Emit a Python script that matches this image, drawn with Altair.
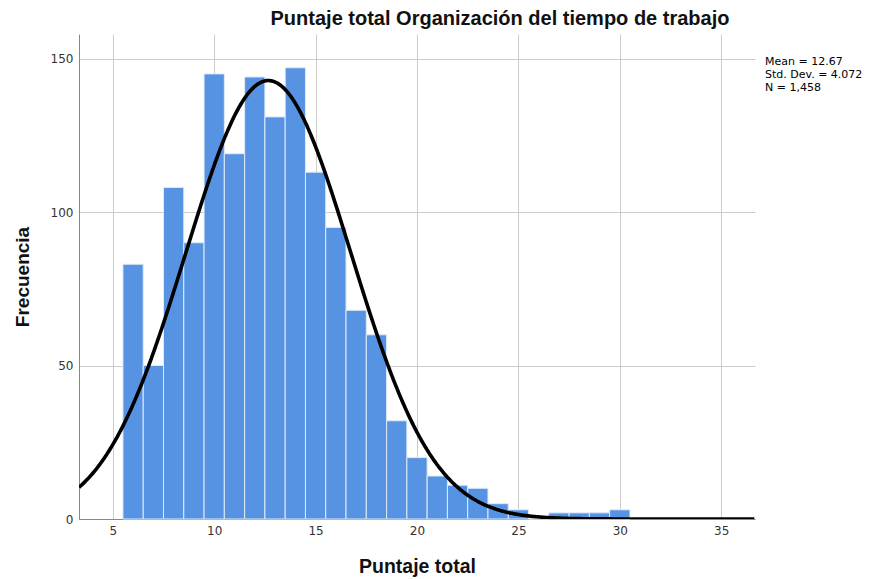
import altair as alt
import pandas as pd

# Data (bins of width 1 centred on integers)
bin_centers = [6, 7, 8, 9, 10, 11, 12, 13, 14, 15, 16, 17, 18, 19, 20, 21, 22, 23, 24, 25, 26, 27, 28, 29, 30]
counts = [83, 50, 108, 90, 145, 119, 144, 131, 147, 113, 95, 68, 60, 32, 20, 14, 11, 10, 5, 3, 0, 2, 2, 2, 3]
MEAN = 12.67
SD = 4.072
N = 1458
BIN_W = 1.0
x_ticks = [5, 10, 15, 20, 25, 30, 35]
y_ticks = [0, 50, 100, 150]
stats_lines = ["Mean = 12.67", "Std. Dev. = 4.072", "N = 1,458"]
X_DOMAIN = [3.3333, 36.6667]
Y_DOMAIN = [0, 158]

df = pd.DataFrame({"center": bin_centers, "count": counts})
df["x0"] = df["center"] - BIN_W / 2
df["x1"] = df["center"] + BIN_W / 2

W, H = 676, 485
FONT = "DejaVu Sans"
TFONT = "Liberation Sans"

xscale = alt.Scale(domain=X_DOMAIN, nice=False, zero=False)
yscale = alt.Scale(domain=Y_DOMAIN, nice=False)

xaxis = alt.Axis(values=x_ticks, title="Puntaje total", grid=True, gridColor="#cccccc",
                 gridWidth=1, ticks=False, labelPadding=6, labelFont=FONT, labelFontSize=12,
                 labelColor="#333333", domainColor="#888888", titleFont=TFONT, titleFontSize=19.5,
                 titleFontWeight="bold", titleColor="#111111", titlePadding=21, format="d")
yaxis = alt.Axis(values=y_ticks, title="Frecuencia", grid=True, gridColor="#cccccc",
                 gridWidth=1, ticks=False, labelPadding=6, labelFont=FONT, labelFontSize=12,
                 labelColor="#333333", domainColor="#888888", titleFont=TFONT, titleFontSize=19,
                 titleFontWeight="bold", titleColor="#111111", titlePadding=18, format="d")

bars = alt.Chart(df).mark_rect(color="#5694E3", stroke="#dfeaf9", strokeWidth=1).encode(
    x=alt.X("x0:Q", scale=xscale, axis=xaxis),
    x2="x1:Q",
    y=alt.Y("count:Q", scale=yscale, axis=yaxis),
    y2=alt.datum(0),
)

curve = alt.Chart(alt.sequence(X_DOMAIN[0], X_DOMAIN[1] + 0.01, 0.05, as_="x")).transform_calculate(
    y=f"{N}*{BIN_W}*densityNormal(datum.x, {MEAN}, {SD})"
).mark_line(color="black", strokeWidth=3.6, clip=True).encode(
    x=alt.X("x:Q", scale=xscale),
    y=alt.Y("y:Q", scale=yscale),
)

stats_df = pd.DataFrame({"t": ["\n".join(stats_lines)]})
stats = alt.Chart(stats_df).mark_text(align="left", baseline="top", font=FONT,
                                      fontSize=11, lineHeight=13, lineBreak="\n",
                                      color="black").encode(
    x=alt.value(W + 10),
    y=alt.value(22),
    text="t:N",
)

chart = alt.layer(bars, curve, stats).properties(
    width=W, height=H,
    title=alt.TitleParams("Puntaje total Organización del tiempo de trabajo", font=TFONT,
                          fontSize=20, fontWeight="bold", color="#111111", anchor="middle",
                          dx=83, offset=5),
    autosize=alt.AutoSizeParams(type="none"),
    padding={"left": 71, "top": 26, "right": 114, "bottom": 58},
).configure_view(stroke=None)

chart.save("out.html", embed_options={"renderer": "svg", "actions": False})
